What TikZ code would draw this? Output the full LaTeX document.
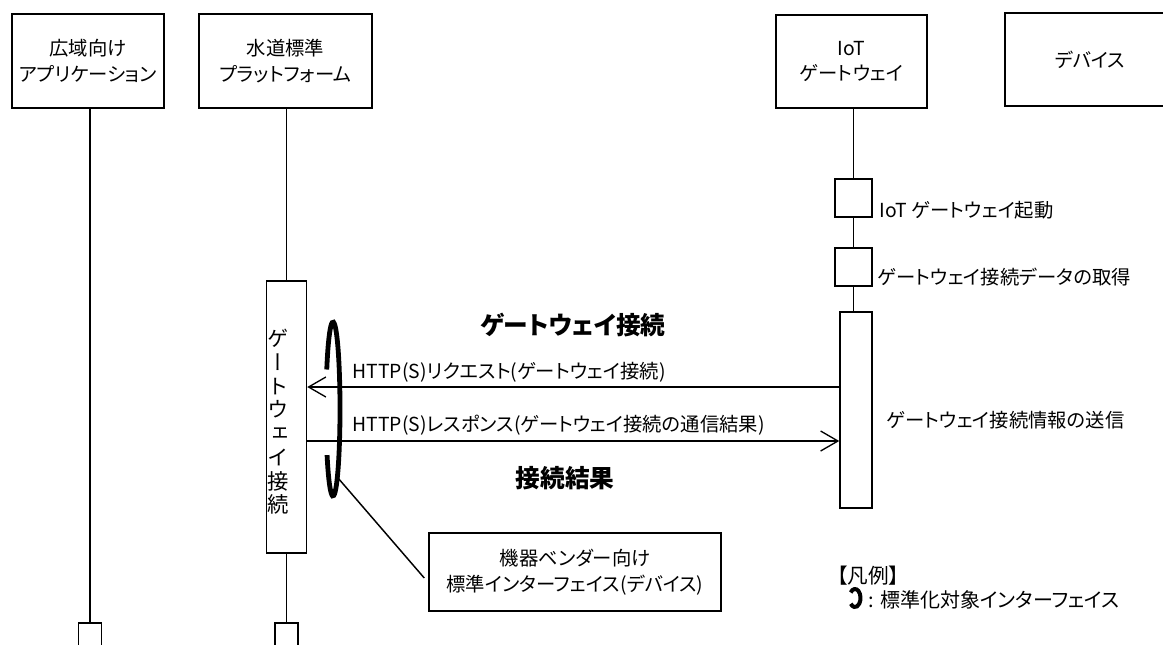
\documentclass[tikz,border=0pt]{standalone}
\usepackage{fontspec}
\setmainfont{Noto Sans CJK JP}[RawFeature=+palt]
\newfontfamily\tatefont{Noto Sans CJK JP}[RawFeature=+vert]
\usetikzlibrary{arrows.meta,positioning}

\begin{document}
\begin{tikzpicture}[%
    x=0.75pt, y=-0.75pt,        % pixel grid, y grows downwards
    >={Straight Barb[length=13pt,width=15pt]}, % open arrow heads
    line width=1.1pt,
    font=\fontsize{14.5}{19}\selectfont,
    ]
% -------------------------------------------------
% Box and line styles
\tikzset{
  actor/.style={draw, align=center, inner sep=0pt, minimum height=70.5pt},
  stepbox/.style={draw, inner sep=0pt, minimum width=27.75pt, minimum height=28.5pt},
  endbox/.style={draw, inner sep=0pt, minimum size=17.25pt},
  actbar/.style={draw, inner sep=0pt},
  msg/.style={->, line width=1pt},
  note/.style={anchor=west, inner sep=0pt},
  phase/.style={inner sep=0pt, font=\fontsize{18.5}{22}\selectfont\bfseries},
  ring/.style={line width=3.6pt},
}
\useasboundingbox (0,0) rectangle (1163,644);
% -------------------------------------------------
% Lifeline heads
\node [actor, minimum width=114pt]    (app)  at (88,61)     {広域向け\\アプリケーション};
\node [actor, minimum width=129.75pt] (plat) at (285.5,61)  {水道標準\\プラットフォーム};
\node [actor, minimum width=113.25pt, minimum height=69.75pt] (gw) at (851.5,61.5) {IoT\\ゲートウェイ};
\node [actor, minimum width=127.5pt, minimum height=69.75pt]  (dev) at (1090,59.5) {デバイス};

% Lifelines with their bars
\node [endbox] (append) at (90,634.5) {};
\draw (app.south -| append) -- (append.north);

\node [actbar, minimum width=30pt, minimum height=204pt] (platact) at (286.5,417) {};
\node [endbox] (platend) at (286.5,634.5) {};
\draw (plat.south -| platact) -- (platact.north);
\draw (platact.south) -- (platend.north);

\node [stepbox] (boot)  at (853.5,198) {};
\node [stepbox] (fetch) at (853.5,267) {};
\node [actbar, minimum width=24pt, minimum height=147pt] (gwact) at (856,410) {};
\draw (gw.south -| boot) -- (boot.north);
\draw (boot.south) -- (fetch.north);
\draw (fetch.south) -- (fetch.south |- gwact.north);

% Step texts
\node [note] (bootlbl)  at (879,210) {IoT ゲートウェイ起動};
\node [note] (fetchlbl) at (877,277) {ゲートウェイ接続データの取得};
\node [note] (sendlbl)  at (886,420) {ゲートウェイ接続情報の送信};
\node [inner sep=0pt, align=center, font=\tatefont\fontsize{16}{17.8}\selectfont]
  (platlbl) at (278.5,422) {ゲ\\ー\\ト\\ウ\\ェ\\イ\\接\\続};

% -------------------------------------------------
% Messages
\coordinate (req) at (0,387);
\coordinate (res) at (0,441);
\draw [msg] (gwact.west |- req) -- (platact.east |- req);
\draw [msg] (platact.east |- res) -- (gwact.west |- res);
\node [note] (reqlbl) at (352,372) {HTTP(S)リクエスト(ゲートウェイ接続)};
\node [note] (reslbl) at (352,425) {HTTP(S)レスポンス(ゲートウェイ接続の通信結果)};
\node [phase] (connect) at (573,325) {ゲートウェイ接続};
\node [phase] (result)  at (565,478) {接続結果};

% Standard interface ring and its callout
\coordinate (ringc) at (333,409);
\draw [ring] (ringc) ++(207:7 and 87)
  arc [start angle=207, end angle=508, x radius=7, y radius=87];
\node [draw, align=center, inner sep=0pt, minimum width=219pt, minimum height=58.5pt,
  font=\fontsize{14.5}{19.5}\selectfont] (vendor) at (575,572)
  {機器ベンダー向け\\標準インターフェイス(デバイス)};
\coordinate (ringfoot) at (338,478);
\draw (ringfoot) -- ([shift={(-4,6)}]vendor.west);

% Legend
\node [inner sep=0pt, font=\fontsize{15.5}{19}\selectfont] (legend) at (868,576) {【凡例】};
\coordinate (legendc) at (855,598);
\draw [line width=3pt] (legendc) ++(218:5.5 and 9)
  arc [start angle=218, end angle=500, x radius=5.5, y radius=9];
\node [note, font=\fontsize{15}{19}\selectfont] (legendlbl) at (868,600) {: 標準化対象インターフェイス};
% -------------------------------------------------
\end{tikzpicture}
\end{document}
